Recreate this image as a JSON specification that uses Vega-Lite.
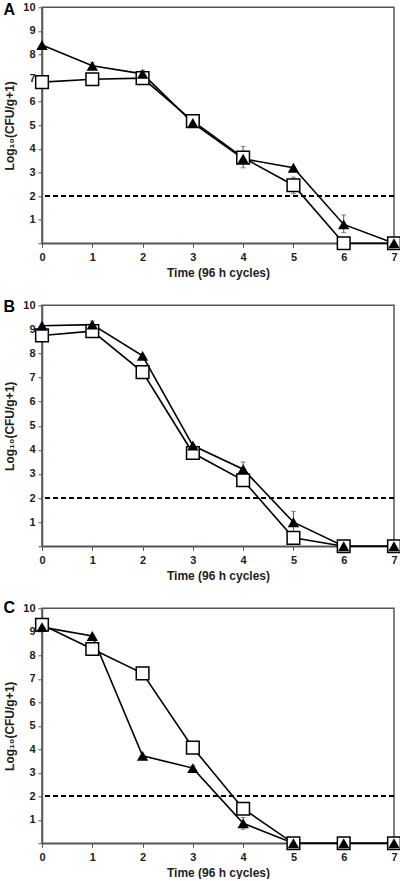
{
  "$schema": "https://vega.github.io/schema/vega-lite/v6.json",
  "padding": {"left": 2, "top": 0.3, "right": 0, "bottom": 0},
  "background": "white",
  "bounds": "flush",
  "spacing": 62,
  "datasets": {
    "pts": [
      {"panel": "A", "series": "tri", "t": 0, "v": 8.4},
      {"panel": "A", "series": "tri", "t": 1, "v": 7.52},
      {"panel": "A", "series": "tri", "t": 2, "v": 7.18},
      {"panel": "A", "series": "tri", "t": 3, "v": 5.1},
      {"panel": "A", "series": "tri", "t": 4, "v": 3.58},
      {"panel": "A", "series": "tri", "t": 5, "v": 3.2},
      {"panel": "A", "series": "tri", "t": 6, "v": 0.8},
      {"panel": "A", "series": "tri", "t": 7, "v": 0.0},
      {"panel": "A", "series": "sq", "t": 0, "v": 6.83},
      {"panel": "A", "series": "sq", "t": 1, "v": 6.95},
      {"panel": "A", "series": "sq", "t": 2, "v": 7.0},
      {"panel": "A", "series": "sq", "t": 3, "v": 5.18},
      {"panel": "A", "series": "sq", "t": 4, "v": 3.63},
      {"panel": "A", "series": "sq", "t": 5, "v": 2.46},
      {"panel": "A", "series": "sq", "t": 6, "v": 0.0},
      {"panel": "A", "series": "sq", "t": 7, "v": 0.0},
      {"panel": "B", "series": "tri", "t": 0, "v": 9.15},
      {"panel": "B", "series": "tri", "t": 1, "v": 9.2},
      {"panel": "B", "series": "tri", "t": 2, "v": 7.9},
      {"panel": "B", "series": "tri", "t": 3, "v": 4.18},
      {"panel": "B", "series": "tri", "t": 4, "v": 3.2},
      {"panel": "B", "series": "tri", "t": 5, "v": 1.0},
      {"panel": "B", "series": "tri", "t": 6, "v": 0.0},
      {"panel": "B", "series": "tri", "t": 7, "v": 0.0},
      {"panel": "B", "series": "sq", "t": 0, "v": 8.75},
      {"panel": "B", "series": "sq", "t": 1, "v": 8.93},
      {"panel": "B", "series": "sq", "t": 2, "v": 7.23},
      {"panel": "B", "series": "sq", "t": 3, "v": 3.87},
      {"panel": "B", "series": "sq", "t": 4, "v": 2.74},
      {"panel": "B", "series": "sq", "t": 5, "v": 0.35},
      {"panel": "B", "series": "sq", "t": 6, "v": 0.0},
      {"panel": "B", "series": "sq", "t": 7, "v": 0.0},
      {"panel": "C", "series": "tri", "t": 0, "v": 9.2},
      {"panel": "C", "series": "tri", "t": 1, "v": 8.82},
      {"panel": "C", "series": "tri", "t": 2, "v": 3.72},
      {"panel": "C", "series": "tri", "t": 3, "v": 3.2},
      {"panel": "C", "series": "tri", "t": 4, "v": 0.85},
      {"panel": "C", "series": "tri", "t": 5, "v": 0.0},
      {"panel": "C", "series": "tri", "t": 6, "v": 0.0},
      {"panel": "C", "series": "tri", "t": 7, "v": 0.0},
      {"panel": "C", "series": "sq", "t": 0, "v": 9.3},
      {"panel": "C", "series": "sq", "t": 1, "v": 8.27},
      {"panel": "C", "series": "sq", "t": 2, "v": 7.23},
      {"panel": "C", "series": "sq", "t": 3, "v": 4.07},
      {"panel": "C", "series": "sq", "t": 4, "v": 1.47},
      {"panel": "C", "series": "sq", "t": 5, "v": 0.0},
      {"panel": "C", "series": "sq", "t": 6, "v": 0.0},
      {"panel": "C", "series": "sq", "t": 7, "v": 0.0}
    ],
    "err": [
      {"panel": "A", "t": 1, "lo": 7.4, "hi": 7.65},
      {"panel": "A", "t": 2, "lo": 7.03, "hi": 7.33},
      {"panel": "A", "t": 4, "lo": 3.2, "hi": 4.1},
      {"panel": "A", "t": 5, "lo": 2.1, "hi": 2.8},
      {"panel": "A", "t": 6, "lo": 0.45, "hi": 1.2},
      {"panel": "A", "t": 1, "lo": 6.7, "hi": 7.1},
      {"panel": "B", "t": 1, "lo": 9.05, "hi": 9.35},
      {"panel": "B", "t": 4, "lo": 2.9, "hi": 3.5},
      {"panel": "B", "t": 5, "lo": 0.55, "hi": 1.45},
      {"panel": "B", "t": 2, "lo": 7.05, "hi": 7.4},
      {"panel": "C", "t": 4, "lo": 0.6, "hi": 1.1},
      {"panel": "C", "t": 3, "lo": 3.1, "hi": 3.3}
    ]
  },
  "vconcat": [
    {
      "width": 352, "height": 236,
      "title": {"text": "A", "anchor": "start", "frame": "group", "dx": -38.5, "offset": 0, "baseline": "middle", "dy": 24.5, "fontSize": 16, "fontWeight": "bold", "font": "Liberation Sans", "color": "black"},
      "layer": [
        {"data": {"name": "pts"}, "mark": {"type": "rule", "strokeDash": [5, 3], "strokeWidth": 1.5, "color": "black"},
         "encoding": {"y": {"datum": 2, "type": "quantitative", "scale": {"domain": [0, 10], "nice": false}, "axis": {"values": [0,1,2,3,4,5,6,7,8,9,10], "labelExpr": "datum.value == 0 ? '' : datum.label", "title": "Log₁₀(CFU/g+1)"}}}},
        {"data": {"name": "err"}, "transform": [{"filter": "datum.panel == 'A'"}],
         "mark": {"type": "errorbar", "ticks": {"size": 5}, "color": "#555", "thickness": 1},
         "encoding": {"x": {"field": "t", "type": "quantitative", "scale": {"domain": [0, 7], "nice": false}, "axis": {"values": [0,1,2,3,4,5,6,7], "title": "Time (96 h cycles)"}},
                      "y": {"field": "lo", "type": "quantitative", "scale": {"domain": [0, 10], "nice": false}, "axis": {"values": [0,1,2,3,4,5,6,7,8,9,10], "labelExpr": "datum.value == 0 ? '' : datum.label", "title": "Log₁₀(CFU/g+1)"}}, "y2": {"field": "hi"}}},
        {"data": {"name": "pts"}, "transform": [{"filter": "datum.panel == 'A'"}],
         "mark": {"type": "line", "color": "black", "strokeWidth": 1.6},
         "encoding": {
           "x": {"field": "t", "type": "quantitative", "scale": {"domain": [0, 7], "nice": false}, "axis": {"values": [0,1,2,3,4,5,6,7], "title": "Time (96 h cycles)"}},
           "y": {"field": "v", "type": "quantitative", "scale": {"domain": [0, 10], "nice": false}, "axis": {"values": [0,1,2,3,4,5,6,7,8,9,10], "labelExpr": "datum.value == 0 ? '' : datum.label", "title": "Log₁₀(CFU/g+1)"}},
           "detail": {"field": "series"}}},
        {"data": {"name": "pts"}, "transform": [{"filter": "datum.panel == 'A' && datum.series == 'sq'"}],
         "mark": {"type": "point", "shape": "square", "filled": true, "fill": "white", "stroke": "black", "strokeWidth": 1.5, "size": 160, "opacity": 1},
         "encoding": {"x": {"field": "t", "type": "quantitative", "scale": {"domain": [0, 7], "nice": false}, "axis": {"values": [0,1,2,3,4,5,6,7], "title": "Time (96 h cycles)"}},
                      "y": {"field": "v", "type": "quantitative", "scale": {"domain": [0, 10], "nice": false}, "axis": {"values": [0,1,2,3,4,5,6,7,8,9,10], "labelExpr": "datum.value == 0 ? '' : datum.label", "title": "Log₁₀(CFU/g+1)"}}}},
        {"data": {"name": "pts"}, "transform": [{"filter": "datum.panel == 'A' && datum.series == 'tri'"}],
         "mark": {"type": "point", "shape": "triangle-up", "filled": true, "color": "black", "size": 130, "opacity": 1},
         "encoding": {"x": {"field": "t", "type": "quantitative", "scale": {"domain": [0, 7], "nice": false}, "axis": {"values": [0,1,2,3,4,5,6,7], "title": "Time (96 h cycles)"}},
                      "y": {"field": "v", "type": "quantitative", "scale": {"domain": [0, 10], "nice": false}, "axis": {"values": [0,1,2,3,4,5,6,7,8,9,10], "labelExpr": "datum.value == 0 ? '' : datum.label", "title": "Log₁₀(CFU/g+1)"}}}}
      ]
    },
    {
      "width": 352, "height": 241,
      "title": {"text": "B", "anchor": "start", "frame": "group", "dx": -38.5, "offset": 0, "baseline": "middle", "dy": 23.5, "fontSize": 16, "fontWeight": "bold", "font": "Liberation Sans", "color": "black"},
      "layer": [
        {"data": {"name": "pts"}, "mark": {"type": "rule", "strokeDash": [5, 3], "strokeWidth": 1.5, "color": "black"},
         "encoding": {"y": {"datum": 2, "type": "quantitative", "scale": {"domain": [0, 10], "nice": false}, "axis": {"values": [0,1,2,3,4,5,6,7,8,9,10], "labelExpr": "datum.value == 0 ? '' : datum.label", "title": "Log₁₀(CFU/g+1)"}}}},
        {"data": {"name": "err"}, "transform": [{"filter": "datum.panel == 'B'"}],
         "mark": {"type": "errorbar", "ticks": {"size": 5}, "color": "#555", "thickness": 1},
         "encoding": {"x": {"field": "t", "type": "quantitative", "scale": {"domain": [0, 7], "nice": false}, "axis": {"values": [0,1,2,3,4,5,6,7], "title": "Time (96 h cycles)"}},
                      "y": {"field": "lo", "type": "quantitative", "scale": {"domain": [0, 10], "nice": false}, "axis": {"values": [0,1,2,3,4,5,6,7,8,9,10], "labelExpr": "datum.value == 0 ? '' : datum.label", "title": "Log₁₀(CFU/g+1)"}}, "y2": {"field": "hi"}}},
        {"data": {"name": "pts"}, "transform": [{"filter": "datum.panel == 'B'"}],
         "mark": {"type": "line", "color": "black", "strokeWidth": 1.6},
         "encoding": {
           "x": {"field": "t", "type": "quantitative", "scale": {"domain": [0, 7], "nice": false}, "axis": {"values": [0,1,2,3,4,5,6,7], "title": "Time (96 h cycles)"}},
           "y": {"field": "v", "type": "quantitative", "scale": {"domain": [0, 10], "nice": false}, "axis": {"values": [0,1,2,3,4,5,6,7,8,9,10], "labelExpr": "datum.value == 0 ? '' : datum.label", "title": "Log₁₀(CFU/g+1)"}},
           "detail": {"field": "series"}}},
        {"data": {"name": "pts"}, "transform": [{"filter": "datum.panel == 'B' && datum.series == 'sq'"}],
         "mark": {"type": "point", "shape": "square", "filled": true, "fill": "white", "stroke": "black", "strokeWidth": 1.5, "size": 160, "opacity": 1},
         "encoding": {"x": {"field": "t", "type": "quantitative", "scale": {"domain": [0, 7], "nice": false}, "axis": {"values": [0,1,2,3,4,5,6,7], "title": "Time (96 h cycles)"}},
                      "y": {"field": "v", "type": "quantitative", "scale": {"domain": [0, 10], "nice": false}, "axis": {"values": [0,1,2,3,4,5,6,7,8,9,10], "labelExpr": "datum.value == 0 ? '' : datum.label", "title": "Log₁₀(CFU/g+1)"}}}},
        {"data": {"name": "pts"}, "transform": [{"filter": "datum.panel == 'B' && datum.series == 'tri'"}],
         "mark": {"type": "point", "shape": "triangle-up", "filled": true, "color": "black", "size": 130, "opacity": 1},
         "encoding": {"x": {"field": "t", "type": "quantitative", "scale": {"domain": [0, 7], "nice": false}, "axis": {"values": [0,1,2,3,4,5,6,7], "title": "Time (96 h cycles)"}},
                      "y": {"field": "v", "type": "quantitative", "scale": {"domain": [0, 10], "nice": false}, "axis": {"values": [0,1,2,3,4,5,6,7,8,9,10], "labelExpr": "datum.value == 0 ? '' : datum.label", "title": "Log₁₀(CFU/g+1)"}}}}
      ]
    },
    {
      "width": 352, "height": 235,
      "title": {"text": "C", "anchor": "start", "frame": "group", "dx": -38.5, "offset": 0, "baseline": "middle", "dy": 21.5, "fontSize": 16, "fontWeight": "bold", "font": "Liberation Sans", "color": "black"},
      "layer": [
        {"data": {"name": "pts"}, "mark": {"type": "rule", "strokeDash": [5, 3], "strokeWidth": 1.5, "color": "black"},
         "encoding": {"y": {"datum": 2, "type": "quantitative", "scale": {"domain": [0, 10], "nice": false}, "axis": {"values": [0,1,2,3,4,5,6,7,8,9,10], "labelExpr": "datum.value == 0 ? '' : datum.label", "title": "Log₁₀(CFU/g+1)"}}}},
        {"data": {"name": "err"}, "transform": [{"filter": "datum.panel == 'C'"}],
         "mark": {"type": "errorbar", "ticks": {"size": 5}, "color": "#555", "thickness": 1},
         "encoding": {"x": {"field": "t", "type": "quantitative", "scale": {"domain": [0, 7], "nice": false}, "axis": {"values": [0,1,2,3,4,5,6,7], "title": "Time (96 h cycles)"}},
                      "y": {"field": "lo", "type": "quantitative", "scale": {"domain": [0, 10], "nice": false}, "axis": {"values": [0,1,2,3,4,5,6,7,8,9,10], "labelExpr": "datum.value == 0 ? '' : datum.label", "title": "Log₁₀(CFU/g+1)"}}, "y2": {"field": "hi"}}},
        {"data": {"name": "pts"}, "transform": [{"filter": "datum.panel == 'C'"}],
         "mark": {"type": "line", "color": "black", "strokeWidth": 1.6},
         "encoding": {
           "x": {"field": "t", "type": "quantitative", "scale": {"domain": [0, 7], "nice": false}, "axis": {"values": [0,1,2,3,4,5,6,7], "title": "Time (96 h cycles)"}},
           "y": {"field": "v", "type": "quantitative", "scale": {"domain": [0, 10], "nice": false}, "axis": {"values": [0,1,2,3,4,5,6,7,8,9,10], "labelExpr": "datum.value == 0 ? '' : datum.label", "title": "Log₁₀(CFU/g+1)"}},
           "detail": {"field": "series"}}},
        {"data": {"name": "pts"}, "transform": [{"filter": "datum.panel == 'C' && datum.series == 'sq'"}],
         "mark": {"type": "point", "shape": "square", "filled": true, "fill": "white", "stroke": "black", "strokeWidth": 1.5, "size": 160, "opacity": 1},
         "encoding": {"x": {"field": "t", "type": "quantitative", "scale": {"domain": [0, 7], "nice": false}, "axis": {"values": [0,1,2,3,4,5,6,7], "title": "Time (96 h cycles)"}},
                      "y": {"field": "v", "type": "quantitative", "scale": {"domain": [0, 10], "nice": false}, "axis": {"values": [0,1,2,3,4,5,6,7,8,9,10], "labelExpr": "datum.value == 0 ? '' : datum.label", "title": "Log₁₀(CFU/g+1)"}}}},
        {"data": {"name": "pts"}, "transform": [{"filter": "datum.panel == 'C' && datum.series == 'tri'"}],
         "mark": {"type": "point", "shape": "triangle-up", "filled": true, "color": "black", "size": 130, "opacity": 1},
         "encoding": {"x": {"field": "t", "type": "quantitative", "scale": {"domain": [0, 7], "nice": false}, "axis": {"values": [0,1,2,3,4,5,6,7], "title": "Time (96 h cycles)"}},
                      "y": {"field": "v", "type": "quantitative", "scale": {"domain": [0, 10], "nice": false}, "axis": {"values": [0,1,2,3,4,5,6,7,8,9,10], "labelExpr": "datum.value == 0 ? '' : datum.label", "title": "Log₁₀(CFU/g+1)"}}}}
      ]
    }
  ],
  "config": {
    "font": "Liberation Sans",
    "view": {"stroke": "#555", "strokeWidth": 1.5},
    "axis": {"grid": false, "domainColor": "#555", "domainWidth": 1.5, "tickColor": "#555", "tickSize": 4, "tickWidth": 1,
             "labelFont": "Liberation Sans", "labelFontWeight": "bold", "labelFontSize": 11, "labelColor": "#222", "labelPadding": 3,
             "labelOverlap": false, "labelBound": false, "labelFlush": false,
             "titleFont": "Liberation Sans", "titleFontWeight": "bold", "titleFontSize": 12, "titleColor": "#222"},
    "axisY": {"titlePadding": 6},
    "axisX": {"labelPadding": 4, "titlePadding": 5}
  }
}
